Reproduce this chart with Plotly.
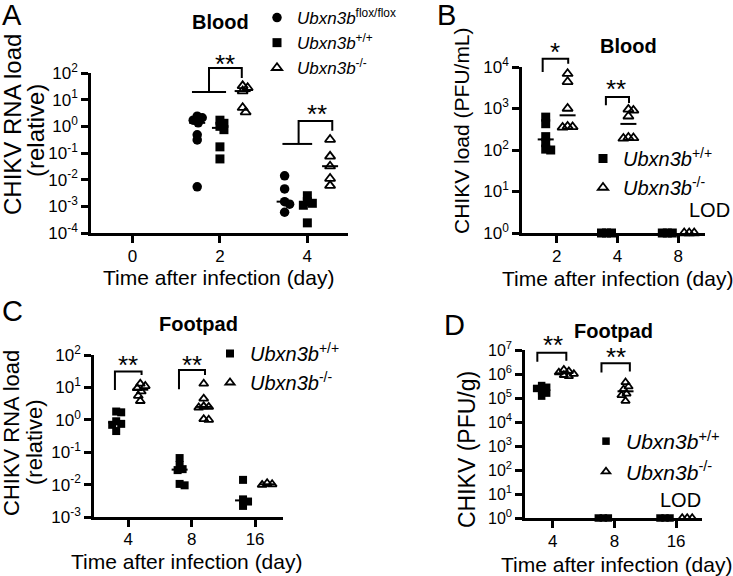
import numpy as np
import plotly.graph_objects as go

W, H = 733, 576
FONT = "Liberation Sans, Arial, Helvetica, sans-serif"

# ---------------- data ----------------
# Panel A - CHIKV RNA load in blood (relative)
A_day_ticks = [0, 2, 4]
A_flox_day2 = [2.4, 2.1, 1.7, 1.35, 0.48, 0.31, 0.0054]
A_flox_day4 = [0.014, 0.0045, 0.0015, 0.0012, 0.0006]
A_wt_day2 = [1.7, 1.3, 1.0, 0.75, 0.17, 0.06]
A_wt_day4 = [0.0025, 0.0015, 0.0013, 0.0011, 0.00024]
A_ko_day2 = [33, 28, 21, 5.0, 3.4]
A_ko_day4 = [0.32, 0.075, 0.032, 0.011, 0.006]

# Panel B - CHIKV load in blood (PFU/mL)
B_days = ["2", "4", "8"]
B_wt = [[620, 430, 210, 150, 105, 100], [1, 1, 1], [1, 1, 1]]
B_ko = [[6900, 4400, 1000, 370, 360, 350], [950, 900, 650, 200, 195, 190], [1, 1, 1]]

# Panel C - CHIKV RNA load in footpad (relative)
C_days = ["4", "8", "16"]
C_wt = [[1.8, 1.7, 0.9, 0.75, 0.7, 0.45],
        [0.066, 0.04, 0.03, 0.028, 0.0105, 0.0095],
        [0.014, 0.0035, 0.003, 0.0022]]
C_ko = [[13, 11, 9.5, 7.5, 5.5, 3.8],
        [13, 4.5, 2.6, 2.5, 2.4, 1.05, 1.0],
        [0.011, 0.0102, 0.0098]]

# Panel D - CHIKV in footpad (PFU/g)
D_days = ["4", "8", "16"]
D_wt = [[3.3e5, 2.8e5, 2.5e5, 2.0e5, 1.6e5, 1.2e5], [1, 1, 1], [1, 1, 1]]
D_ko = [[1.5e6, 1.3e6, 1.15e6, 1.0e6, 9.0e5, 8.0e5],
        [4.5e5, 3.0e5, 2.3e5, 1.5e5, 1.3e5, 7.5e4], [1, 1, 1]]

NAME_FLOX = "<i>Ubxn3b</i><sup>flox/flox</sup>"
NAME_WT = "<i>Ubxn3b</i><sup>+/+</sup>"
NAME_KO = "<i>Ubxn3b</i><sup>-/-</sup>"
X_TITLE = "Time after infection (day)"

# significance brackets: polylines in (x, log10 y) and star label position
A_brackets = [
    dict(lines=[[(1.36, 1.29), (2.14, 1.29)], [(1.75, 1.29), (1.75, 2.19), (2.5, 2.19), (2.5, 1.81)]],
         star=(2.11, 2.6), label="**"),
    dict(lines=[[(3.43, -0.66), (4.11, -0.66)], [(3.8, -0.66), (3.8, 0.2), (4.57, 0.2), (4.57, -0.17)]],
         star=(4.23, 0.73), label="**"),
]
B_brackets = [
    dict(lines=[[(-0.23, 3.88), (-0.23, 4.2), (0.19, 4.2), (0.19, 4.08)]], star=(-0.03, 4.52), label="*"),
    dict(lines=[[(0.81, 3.08), (0.81, 3.28), (1.19, 3.28), (1.19, 3.13)]], star=(0.97, 3.63), label="**"),
]
C_brackets = [
    dict(lines=[[(-0.21, 0.92), (-0.21, 1.49), (0.21, 1.49), (0.21, 1.38)]], star=(0.0, 1.9), label="**"),
    dict(lines=[[(0.8, 0.94), (0.8, 1.54), (1.21, 1.54), (1.21, 1.38)]], star=(1.0, 1.9), label="**"),
]
D_brackets = [
    dict(lines=[[(-0.25, 6.51), (-0.25, 6.89), (0.22, 6.89), (0.22, 6.55)]], star=(0.0, 7.49), label="**"),
    dict(lines=[[(0.79, 6.06), (0.79, 6.45), (1.25, 6.45), (1.25, 6.1)]], star=(1.03, 7.0), label="**"),
]

# ---------------- layout geometry (pixels) ----------------
PANEL = {
    "A": dict(xa="x", ya="y", px=(91, 348), py=(233, 73), xr=(-0.95, 4.93), yr=(-4, 2)),
    "B": dict(xa="x2", ya="y2", px=(522, 705), py=(233, 67), xr=(-0.57, 2.44), yr=(0, 4)),
    "C": dict(xa="x3", ya="y3", px=(94, 283), py=(517, 355), xr=(-0.54, 2.44), yr=(-3, 2)),
    "D": dict(xa="x4", ya="y4", px=(525, 702), py=(518, 350), xr=(-0.45, 2.42), yr=(0, 7)),
}


def xppu(p):
    return (p["px"][1] - p["px"][0]) / (p["xr"][1] - p["xr"][0])


def yppd(p):
    return (p["py"][0] - p["py"][1]) / (p["yr"][1] - p["yr"][0])


def to_paper(p, x, ly):
    X = p["px"][0] + (x - p["xr"][0]) * xppu(p)
    Y = p["py"][0] - (ly - p["yr"][0]) * yppd(p)
    return X / W, 1 - Y / H


def swarm_offsets(values, p, d=5.0, step=1.0):
    ys = [-np.log10(v) * yppd(p) for v in values]
    order = sorted(range(len(values)), key=lambda i: ys[i])
    cands = [0.0] + [s * j * step for j in range(1, 80) for s in (1, -1)]
    placed, off = [], [0.0] * len(values)
    for i in order:
        for c in cands:
            if all((c - a) ** 2 + (ys[i] - b) ** 2 >= d * d for a, b in placed):
                break
        placed.append((c, ys[i]))
        off[i] = c / xppu(p)
    return off


fig = go.Figure()


def add_series(panel, name, marker, groups, legend):
    p = PANEL[panel]
    xs, ys = [], []
    for cx, vals in groups:
        offs = swarm_offsets(vals, p)
        xs += [cx + o for o in offs]
        ys += list(vals)
    fig.add_trace(go.Scatter(x=xs, y=ys, mode="markers", name=name, marker=marker,
                             xaxis=p["xa"], yaxis=p["ya"], legend=legend, cliponaxis=False))
    mx, my = [], []
    half = 8 / xppu(p)
    for cx, vals in groups:
        m = float(np.median(vals))
        if m <= 10 ** p["yr"][0]:
            continue
        mx += [cx - half, cx + half, None]
        my += [m, m, None]
    fig.add_trace(go.Scatter(x=mx, y=my, mode="lines", line=dict(color="black", width=2),
                             showlegend=False, hoverinfo="skip", xaxis=p["xa"], yaxis=p["ya"]))


def circ(s):
    return dict(symbol="circle", size=s, color="black")


def sq(s):
    return dict(symbol="square", size=s, color="black")


def tri(s):
    return dict(symbol="triangle-up-open", size=s, color="black", line=dict(width=1.8, color="black"))


# Panel A (groups offset around each day)
add_series("A", NAME_FLOX, circ(9.5), [(2 - 0.52, A_flox_day2), (4 - 0.52, A_flox_day4)], "legend")
add_series("A", NAME_WT, sq(9), [(2, A_wt_day2), (4, A_wt_day4)], "legend")
add_series("A", NAME_KO, tri(9), [(2 + 0.52, A_ko_day2), (4 + 0.52, A_ko_day4)], "legend")

# Panel B
add_series("B", NAME_WT, sq(9), [(i - 0.18, v) for i, v in enumerate(B_wt)], "legend2")
add_series("B", NAME_KO, tri(9), [(i + 0.18, v) for i, v in enumerate(B_ko)], "legend2")

# Panel C
add_series("C", NAME_WT, sq(8), [(i - 0.19, v) for i, v in enumerate(C_wt)], "legend3")
add_series("C", NAME_KO, tri(8), [(i + 0.19, v) for i, v in enumerate(C_ko)], "legend3")

# Panel D
add_series("D", NAME_WT, sq(7.5), [(i - 0.18, v) for i, v in enumerate(D_wt)], "legend4")
add_series("D", NAME_KO, tri(7.5), [(i + 0.18, v) for i, v in enumerate(D_ko)], "legend4")

shapes, annotations = [], []
for panel, brs in (("A", A_brackets), ("B", B_brackets), ("C", C_brackets), ("D", D_brackets)):
    p = PANEL[panel]
    for br in brs:
        for pts in br["lines"]:
            pp = [to_paper(p, x, ly) for x, ly in pts]
            path = "M " + " L ".join(f"{X:.5f},{Y:.5f}" for X, Y in pp)
            shapes.append(dict(type="path", path=path, xref="paper", yref="paper",
                               line=dict(color="black", width=2)))
        sx, sy = to_paper(p, *br["star"])
        annotations.append(dict(text=br["label"], x=sx, y=sy, xref="paper", yref="paper",
                                xanchor="center", yanchor="middle",
                                showarrow=False, yshift=-7, font=dict(size=26, color="black", family=FONT)))


def ann(text, xpx, ypx, size, xanchor="center", angle=0):
    annotations.append(dict(text=text, x=xpx / W, y=1 - ypx / H, xref="paper", yref="paper",
                            xanchor=xanchor, yanchor="middle", textangle=angle,
                            showarrow=False, font=dict(size=size, color="black", family=FONT)))


ann("A", 12, 15, 29)
ann("B", 446, 15, 29)
ann("C", 12, 311, 29)
ann("D", 454, 325, 29)
ann("<b>Blood</b>", 220, 22, 20)
ann("<b>Blood</b>", 628, 46, 20)
ann("<b>Footpad</b>", 198, 324, 20)
ann("<b>Footpad</b>", 613, 331, 20)
ann("LOD", 732, 210, 20, xanchor="right")
ann("LOD", 703, 500, 20, xanchor="right")
# axis titles
ann("CHIKV RNA load", 13, 125, 24, angle=-90)
ann("(relative)", 35, 131, 24, angle=-90)
ann("CHIKV load (PFU/mL)", 461, 131, 21, angle=-90)
ann("CHIKV RNA load", 11, 433, 22, angle=-90)
ann("(relative)", 34, 442, 22, angle=-90)
ann("CHIKV (PFU/g)", 467, 450, 23, angle=-90)
ann(X_TITLE, 218, 277, 21)
ann(X_TITLE, 617, 278, 21)
ann(X_TITLE, 186, 561, 21)
ann(X_TITLE, 616, 564, 21)


def axis_common():
    return dict(showline=True, linecolor="black", linewidth=2.5, ticks="outside", ticklen=7,
                tickwidth=2.5, tickcolor="black", showgrid=False, zeroline=False, fixedrange=True,
                automargin=False, tickfont=dict(size=18, color="black", family=FONT))


def xaxis_for(panel, tickvals, ticktext, standoff=0):
    p = PANEL[panel]
    d = axis_common()
    d.update(domain=[p["px"][0] / W, p["px"][1] / W], range=list(p["xr"]), anchor=p["ya"],
             tickmode="array", tickvals=tickvals, ticktext=ticktext, ticklabelstandoff=standoff,
             tickfont=dict(size=17, color="black", family=FONT))
    return d


def yaxis_for(panel, fsize=17):
    p = PANEL[panel]
    d = axis_common()
    ks = list(range(p["yr"][0], p["yr"][1] + 1))
    d.update(domain=[1 - p["py"][0] / H, 1 - p["py"][1] / H], type="log", range=list(p["yr"]),
             anchor=p["xa"], tickmode="array", tickvals=[10.0 ** k for k in ks],
             ticktext=[f"10<sup>{k}</sup>" for k in ks],
             tickfont=dict(size=fsize, color="black", family=FONT))
    return d


fig.update_layout(
    template="none",
    width=W, height=H, margin=dict(l=0, r=0, t=0, b=0, autoexpand=False),
    paper_bgcolor="white", plot_bgcolor="white",
    font=dict(family=FONT, color="black"),
    xaxis=xaxis_for("A", A_day_ticks, [str(d) for d in A_day_ticks], standoff=-1),
    yaxis=yaxis_for("A"),
    xaxis2=xaxis_for("B", [0, 1, 2], B_days, standoff=-1),
    yaxis2=yaxis_for("B"),
    xaxis3=xaxis_for("C", [0, 1, 2], C_days, standoff=-2),
    yaxis3=yaxis_for("C"),
    xaxis4=xaxis_for("D", [0, 1, 2], D_days, standoff=-1),
    yaxis4=yaxis_for("D", fsize=16),
    legend=dict(x=257 / W, y=1.0, xanchor="left", yanchor="top", bgcolor="rgba(0,0,0,0)",
                font=dict(size=17, color="black", family=FONT)),
    legend2=dict(x=583 / W, y=1 - 139 / H, xanchor="left", yanchor="top", bgcolor="rgba(0,0,0,0)",
                 font=dict(size=20, color="black", family=FONT)),
    legend3=dict(x=210 / W, y=1 - 334 / H, xanchor="left", yanchor="top", bgcolor="rgba(0,0,0,0)",
                 font=dict(size=20, color="black", family=FONT)),
    legend4=dict(x=586 / W, y=1 - 421 / H, xanchor="left", yanchor="top", bgcolor="rgba(0,0,0,0)",
                 font=dict(size=21, color="black", family=FONT)),
    shapes=shapes, annotations=annotations, showlegend=True,
)

fig.write_html("out.html", config={"displayModeBar": False},
               post_script="document.body.style.margin='0px';document.body.style.padding='0px';")
